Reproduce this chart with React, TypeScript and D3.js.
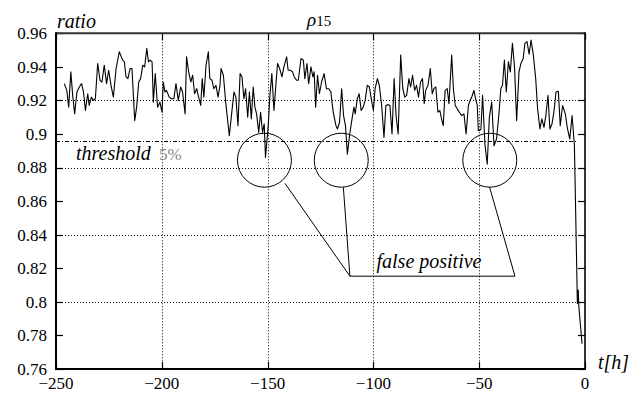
import * as d3 from 'd3';
import * as React from 'react';

// hours before event
const tHours = [
  -246.1, -244.9, -244.0, -243.0, -242.1, -241.2, -240.1, -239.0, -237.9, -237.0, -236.1, -235.0, -234.3, -233.3, -232.3, -231.4,
  -230.3, -229.2, -228.3, -227.2, -226.1, -225.1, -224.0, -222.9, -221.6, -220.1, -218.5, -217.7, -216.9, -216.0, -215.0, -214.1,
  -212.8, -211.9, -210.9, -210.0, -209.0, -208.1, -207.1, -206.3, -205.5, -204.6, -204.0, -203.1, -202.0, -200.9, -199.9, -199.3,
  -198.5, -197.8, -196.5, -195.4, -194.3, -193.3, -192.2, -191.1, -190.2, -189.0, -188.3, -187.3, -186.3, -185.4, -184.5, -183.5,
  -182.6, -181.6, -180.9, -180.1, -179.1, -178.0, -177.3, -176.3, -175.4, -174.4, -173.4, -172.5, -172.0, -170.9, -169.8, -168.1,
  -167.0, -165.9, -165.0, -164.0, -163.0, -162.1, -161.2, -160.4, -159.4, -158.6, -157.7, -156.8, -156.0, -155.2, -154.2, -153.3,
  -152.4, -151.6, -151.0, -149.7, -148.9, -148.0, -147.0, -146.1, -145.3, -144.3, -143.2, -142.3, -141.0, -140.3, -139.2, -138.2,
  -137.4, -136.3, -135.5, -134.2, -133.1, -132.4, -131.4, -130.6, -129.5, -128.6, -128.0, -127.3, -126.4, -125.5, -124.5, -123.3,
  -122.2, -121.1, -120.1, -119.0, -117.7, -117.0, -116.0, -115.0, -114.1, -113.2, -112.3, -111.2, -110.1, -109.2, -108.6, -107.6,
  -106.7, -105.8, -104.8, -103.9, -102.9, -101.9, -100.9, -100.0, -99.2, -98.1, -97.2, -96.1, -95.0, -94.1, -93.0, -92.2,
  -91.2, -90.2, -89.3, -88.3, -87.1, -86.1, -85.2, -84.3, -83.2, -82.4, -81.5, -80.5, -79.6, -78.7, -77.7, -76.8,
  -76.0, -75.3, -74.2, -73.1, -72.2, -71.4, -70.5, -69.5, -68.6, -67.8, -67.0, -66.1, -65.1, -64.3, -63.0, -62.2,
  -61.3, -60.4, -59.4, -58.3, -57.2, -56.2, -55.1, -54.3, -53.4, -52.5, -51.7, -50.9, -50.4, -49.2, -48.4, -47.3,
  -46.2, -45.2, -44.1, -43.0, -41.8, -40.6, -39.8, -39.0, -38.1, -37.2, -36.2, -35.3, -34.3, -33.3, -32.3, -31.2,
  -30.3, -29.2, -28.4, -27.4, -26.4, -25.5, -24.4, -23.3, -22.4, -21.3, -20.4, -19.4, -18.5, -17.5, -16.6, -15.6,
  -14.7, -13.7, -12.6, -11.7, -10.6, -9.3, -8.4, -7.2, -6.1, -5.0, -3.6, -3.2, -2.9, -1.4,
];

const ratio = [
  0.930, 0.926, 0.916, 0.937, 0.923, 0.912, 0.925, 0.928, 0.930, 0.925, 0.914, 0.924, 0.917, 0.922, 0.920, 0.921,
  0.942, 0.932, 0.931, 0.941, 0.930, 0.938, 0.929, 0.922, 0.939, 0.949, 0.944, 0.943, 0.934, 0.933, 0.939, 0.939,
  0.908, 0.916, 0.931, 0.933, 0.941, 0.940, 0.951, 0.943, 0.944, 0.943, 0.919, 0.936, 0.916, 0.919, 0.913, 0.931,
  0.925, 0.926, 0.922, 0.921, 0.921, 0.930, 0.920, 0.928, 0.925, 0.912, 0.946, 0.937, 0.931, 0.935, 0.924, 0.927,
  0.922, 0.917, 0.933, 0.922, 0.941, 0.949, 0.933, 0.932, 0.927, 0.929, 0.922, 0.929, 0.939, 0.935, 0.919, 0.899,
  0.912, 0.925, 0.922, 0.905, 0.936, 0.934, 0.921, 0.927, 0.910, 0.925, 0.909, 0.928, 0.916, 0.912, 0.901, 0.913,
  0.901, 0.906, 0.886, 0.905, 0.923, 0.936, 0.914, 0.929, 0.942, 0.939, 0.934, 0.940, 0.946, 0.938, 0.938, 0.937,
  0.934, 0.932, 0.932, 0.945, 0.944, 0.933, 0.942, 0.930, 0.940, 0.934, 0.937, 0.916, 0.935, 0.924, 0.931, 0.936,
  0.927, 0.927, 0.925, 0.913, 0.905, 0.903, 0.907, 0.927, 0.911, 0.905, 0.888, 0.900, 0.909, 0.916, 0.912, 0.921,
  0.924, 0.914, 0.916, 0.920, 0.929, 0.928, 0.920, 0.914, 0.927, 0.933, 0.929, 0.917, 0.898, 0.917, 0.9175, 0.917,
  0.900, 0.933, 0.911, 0.900, 0.947, 0.927, 0.922, 0.923, 0.933, 0.928, 0.935, 0.926, 0.929, 0.922, 0.931, 0.933,
  0.918, 0.926, 0.929, 0.939, 0.924, 0.927, 0.928, 0.913, 0.914, 0.909, 0.905, 0.926, 0.927, 0.918, 0.947, 0.927,
  0.917, 0.915, 0.913, 0.911, 0.912, 0.900, 0.917, 0.920, 0.9225, 0.926, 0.921, 0.917, 0.902, 0.9025, 0.923, 0.894,
  0.882, 0.910, 0.919, 0.893, 0.897, 0.913, 0.927, 0.929, 0.944, 0.925, 0.943, 0.937, 0.954, 0.940, 0.908, 0.937,
  0.942, 0.945, 0.954, 0.955, 0.9475, 0.956, 0.947, 0.933, 0.915, 0.903, 0.909, 0.904, 0.911, 0.923, 0.903, 0.906,
  0.913, 0.925, 0.9255, 0.905, 0.917, 0.912, 0.904, 0.897, 0.911, 0.893, 0.799, 0.807, 0.797, 0.775,
];

const xTicks = [-250, -200, -150, -100, -50, 0];
const yTicks = [0.76, 0.78, 0.8, 0.82, 0.84, 0.86, 0.88, 0.9, 0.92, 0.94, 0.96];
const xGrid = [-200, -150, -100, -50];
const yGrid = [0.8, 0.84, 0.88, 0.92];

const threshold = 0.896;
const thresholdRange = [-250, -4];

// false positive annotation (data coords)
const circleT = [-151.5, -115.2, -45.0];
const circleV = [0.8844, 0.8844, 0.8844];
const leaderT = [-141.8, -114.2, -45.1];
const leaderV = [0.8706, 0.8682, 0.8684];
const calloutT = [-111.1, -33.1];
const calloutV = 0.8153;

const serif = "'Liberation Serif', 'Times New Roman', Times, Tinos, 'Nimbus Roman', 'DejaVu Serif', serif";

const App = () => {
  const width = 640;
  const height = 393;
  const x = d3.scaleLinear().domain([-250, 0]).range([56, 585]);
  const y = d3.scaleLinear().domain([0.76, 0.96]).range([369, 33.3]);
  const snap = (v) => Math.round(v) + 0.5;

  const points = tHours.map((t, i) => [t, ratio[i]] as [number, number]);
  const line = d3
    .line<[number, number]>()
    .x((d) => x(d[0]))
    .y((d) => y(d[1]));

  const x0 = x(-250);
  const x1 = x(0);
  const yTop = y(0.96);
  const yBot = y(0.76);
  const tickLen = 7;

  const txt = { fontFamily: serif };
  const ital = { fontFamily: serif, fontStyle: 'italic' };

  return (
    <svg width={width} height={height} style={{ position: 'fixed', left: 0, top: 0, background: '#fff' }}>
      {/* grid */}
      {xGrid.map((t) => (
        <line key={'gx' + t} x1={snap(x(t))} x2={snap(x(t))} y1={yTop} y2={yBot} stroke="#000" strokeWidth={1} strokeDasharray="1,2" />
      ))}
      {yGrid.map((v) => (
        <line key={'gy' + v} x1={x0} x2={x1} y1={snap(y(v))} y2={snap(y(v))} stroke="#000" strokeWidth={1} strokeDasharray="1,2" />
      ))}

      {/* threshold */}
      <line
        x1={x(thresholdRange[0])}
        x2={x(thresholdRange[1])}
        y1={snap(y(threshold))}
        y2={snap(y(threshold))}
        stroke="#000"
        strokeWidth={1}
        strokeDasharray="4,2,1,2"
      />

      {/* ticks */}
      {yTicks.map((v) => (
        <g key={'ty' + v}>
          <line x1={x0} x2={x0 + tickLen} y1={snap(y(v))} y2={snap(y(v))} stroke="#000" strokeWidth={1.2} />
          <line x1={x1 - tickLen} x2={x1} y1={snap(y(v))} y2={snap(y(v))} stroke="#000" strokeWidth={1.2} />
          <text x={47} y={y(v)} dy="0.34em" textAnchor="end" style={txt} fontSize={17} fill="#000">
            {d3.format('')(v)}
          </text>
        </g>
      ))}
      {xTicks.map((t) => (
        <g key={'tx' + t}>
          <line x1={snap(x(t))} x2={snap(x(t))} y1={yBot} y2={yBot - tickLen} stroke="#000" strokeWidth={1.2} />
          <line x1={snap(x(t))} x2={snap(x(t))} y1={yTop} y2={yTop + tickLen} stroke="#000" strokeWidth={1.2} />
          <text x={x(t)} y={389} textAnchor="middle" style={txt} fontSize={17} fill="#000">
            {t < 0 ? '\u2212' + Math.abs(t) : String(t)}
          </text>
        </g>
      ))}

      {/* series */}
      <path d={line(points) ?? ''} fill="none" stroke="#000" strokeWidth={1.1} strokeLinejoin="round" />

      {/* frame */}
      <line x1={x0} x2={x1} y1={yTop} y2={yTop} stroke="#333" strokeWidth={2} />
      <line x1={x1} x2={x1} y1={yTop - 1} y2={yBot + 1} stroke="#000" strokeWidth={1.6} />
      <line x1={x0} x2={x0} y1={yTop - 1} y2={yBot + 1} stroke="#000" strokeWidth={2} />
      <line x1={x0 - 1} x2={x1 + 1} y1={yBot} y2={yBot} stroke="#000" strokeWidth={2} />

      {/* annotation */}
      {circleT.map((t, i) => (
        <circle key={'c' + i} cx={x(t)} cy={y(circleV[i])} r={27} fill="none" stroke="#000" strokeWidth={1} />
      ))}
      {leaderT.map((t, i) => {
        const end = i < 2 ? calloutT[0] : calloutT[1];
        return <line key={'l' + i} x1={x(t)} y1={y(leaderV[i])} x2={x(end)} y2={y(calloutV)} stroke="#000" strokeWidth={1} />;
      })}
      <line x1={x(calloutT[0])} x2={x(calloutT[1])} y1={y(calloutV)} y2={y(calloutV)} stroke="#000" strokeWidth={1} />
      <text x={376.5} y={268} style={ital} fontSize={20} fill="#000">
        false positive
      </text>

      {/* labels */}
      <text x={76} y={160} style={ital} fontSize={20} fill="#000">
        threshold
      </text>
      <text x={159} y={160} style={txt} fontSize={17} fill="#888">
        5%
      </text>
      <text x={57} y={28} style={ital} fontSize={20} fill="#000">
        ratio
      </text>
      <text x={598} y={369} style={ital} fontSize={20} fill="#000">
        t[h]
      </text>
      <text x={307} y={26} style={txt} fill="#000">
        <tspan fontStyle="italic" fontSize={19}>
          ρ
        </tspan>
        <tspan fontSize={15}>15</tspan>
      </text>
    </svg>
  );
};

export default App;
